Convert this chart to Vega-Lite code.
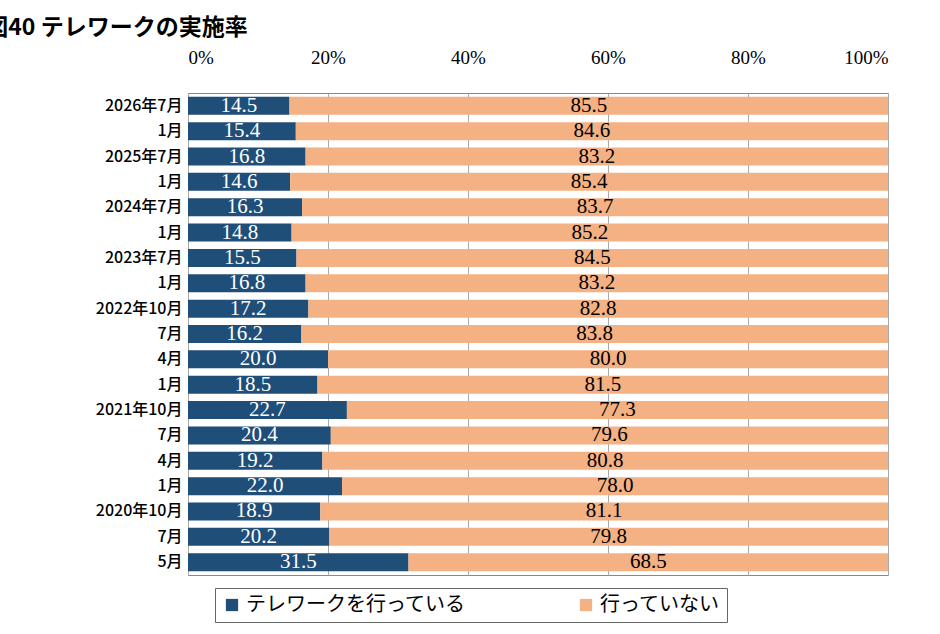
{
"$schema":"https://vega.github.io/schema/vega-lite/v6.json",
"width":700,"height":482,
"autosize":{"type":"none"},
"padding":{"left":188,"top":93,"right":52,"bottom":59},
"title":{"text":"図40 テレワークの実施率","anchor":"start","frame":"bounds","font":"Noto Sans CJK JP","fontSize":23,"fontWeight":"bold","color":"#000","dx":-110,"offset":8},
"config":{"view":{"stroke":"#888"},"background":"white"},
"data":{"values":[
{"k":"2026年7月|a","s":1,"v":14.5},{"k":"2026年7月|a","s":2,"v":85.5},
{"k":"1月|b","s":1,"v":15.4},{"k":"1月|b","s":2,"v":84.6},
{"k":"2025年7月|c","s":1,"v":16.8},{"k":"2025年7月|c","s":2,"v":83.2},
{"k":"1月|d","s":1,"v":14.6},{"k":"1月|d","s":2,"v":85.4},
{"k":"2024年7月|e","s":1,"v":16.3},{"k":"2024年7月|e","s":2,"v":83.7},
{"k":"1月|f","s":1,"v":14.8},{"k":"1月|f","s":2,"v":85.2},
{"k":"2023年7月|g","s":1,"v":15.5},{"k":"2023年7月|g","s":2,"v":84.5},
{"k":"1月|h","s":1,"v":16.8},{"k":"1月|h","s":2,"v":83.2},
{"k":"2022年10月|i","s":1,"v":17.2},{"k":"2022年10月|i","s":2,"v":82.8},
{"k":"7月|j","s":1,"v":16.2},{"k":"7月|j","s":2,"v":83.8},
{"k":"4月|k","s":1,"v":20.0},{"k":"4月|k","s":2,"v":80.0},
{"k":"1月|l","s":1,"v":18.5},{"k":"1月|l","s":2,"v":81.5},
{"k":"2021年10月|m","s":1,"v":22.7},{"k":"2021年10月|m","s":2,"v":77.3},
{"k":"7月|n","s":1,"v":20.4},{"k":"7月|n","s":2,"v":79.6},
{"k":"4月|o","s":1,"v":19.2},{"k":"4月|o","s":2,"v":80.8},
{"k":"1月|p","s":1,"v":22.0},{"k":"1月|p","s":2,"v":78.0},
{"k":"2020年10月|q","s":1,"v":18.9},{"k":"2020年10月|q","s":2,"v":81.1},
{"k":"7月|r","s":1,"v":20.2},{"k":"7月|r","s":2,"v":79.8},
{"k":"5月|s","s":1,"v":31.5},{"k":"5月|s","s":2,"v":68.5}
]},
"transform":[
{"stack":"v","groupby":["k"],"sort":[{"field":"s","order":"ascending"}],"as":["v0","v1"]},
{"calculate":"(datum.v0+datum.v1)/2","as":"mid"},
{"calculate":"datum.s==1?'テレワークを行っている':'行っていない'","as":"series"}
],
"encoding":{
"y":{"field":"k","type":"nominal","sort":null,"scale":{"paddingInner":0.29,"paddingOuter":0.15},
"axis":{"title":null,"labelExpr":"split(datum.value,'|')[0]","labelFont":"Noto Sans CJK JP","labelFontSize":16,"labelFontWeight":500,"labelColor":"#000","ticks":false,"domain":false,"labelPadding":6}}
},
"layer":[
{"mark":{"type":"bar"},
"encoding":{
"x":{"field":"v0","type":"quantitative","scale":{"domain":[0,100]},
"axis":{"orient":"top","title":null,"values":[0,20,40,60,80,100],"labelExpr":"datum.value+'%'","labelFont":"Liberation Serif","labelFontSize":19,"labelColor":"#000","ticks":false,"domain":false,"gridColor":"#aaa","labelPadding":26}},
"x2":{"field":"v1"},
"color":{"field":"series","type":"nominal","sort":["テレワークを行っている","行っていない"],
"scale":{"range":["#1f4e79","#f4b183"]},
"legend":{"title":null,"orient":"none","legendX":27,"legendY":495,"direction":"horizontal","labelFont":"Noto Sans CJK JP","labelFontSize":20,"labelColor":"#000","symbolType":"square","symbolSize":150,"columnPadding":110,"strokeColor":"#666","padding":7,"labelLimit":300}}
}},
{"mark":{"type":"text","font":"Liberation Serif","fontSize":21,"baseline":"middle"},
"encoding":{
"x":{"field":"mid","type":"quantitative"},
"text":{"field":"v","type":"quantitative","format":".1f"},
"color":{"condition":{"test":"datum.s==1","value":"white"},"value":"black"}
}}
]
}
